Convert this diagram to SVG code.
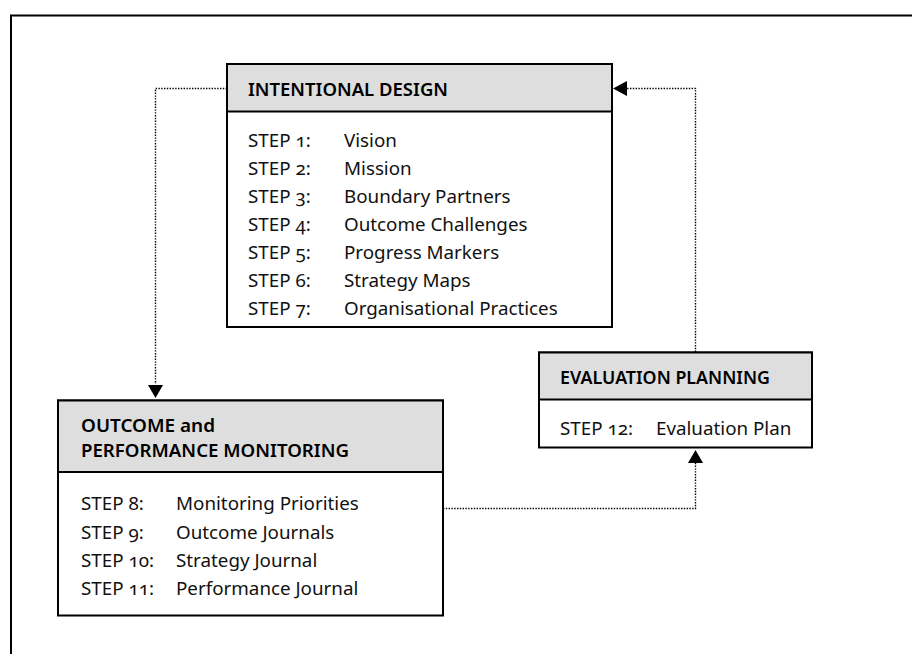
<svg xmlns="http://www.w3.org/2000/svg" width="912" height="654" viewBox="0 0 912 654">
<style>
.box{fill:#fff;stroke:#000;stroke-width:2}
.hdr{fill:#dedede;stroke:#000;stroke-width:2}
.ht{font-family:"Noto Sans","Open Sans",sans-serif;font-size:18.5px;font-weight:600;fill:#000}
.bt{font-family:"Noto Sans","Open Sans",sans-serif;font-size:18.8px;fill:#111;font-variant-numeric:oldstyle-nums;font-feature-settings:"onum" 1}
.dot{fill:none;stroke:#000;stroke-width:1.4;stroke-dasharray:1.4 1.4}
</style>
<rect x="11" y="15.5" width="1000" height="1000" fill="none" stroke="#000" stroke-width="2"/>
<g id="connectors">
<path class="dot" d="M227,88.5 H155.5 V384"/>
<path d="M148,385 L163,385 L155.5,398 Z" fill="#000"/>
<path class="dot" d="M695.5,352 V88.5 H627"/>
<path d="M613,88.5 L627,81 L627,96 Z" fill="#000"/>
<path class="dot" d="M443,508.5 H695.5 V463"/>
<path d="M688,463 L703,463 L695.5,450 Z" fill="#000"/>
</g>
<g id="intentional-design">
<rect class="box" x="227" y="64" width="385" height="263"/>
<rect class="hdr" x="227" y="64" width="385" height="47.5"/>
<text class="ht" x="248" y="95.5" textLength="200" lengthAdjust="spacingAndGlyphs">INTENTIONAL DESIGN</text>
<text class="bt" x="248" y="147">STEP 1:</text><text class="bt" x="344" y="147">Vision</text>
<text class="bt" x="248" y="175">STEP 2:</text><text class="bt" x="344" y="175">Mission</text>
<text class="bt" x="248" y="203">STEP 3:</text><text class="bt" x="344" y="203">Boundary Partners</text>
<text class="bt" x="248" y="231">STEP 4:</text><text class="bt" x="344" y="231">Outcome Challenges</text>
<text class="bt" x="248" y="259">STEP 5:</text><text class="bt" x="344" y="259">Progress Markers</text>
<text class="bt" x="248" y="287">STEP 6:</text><text class="bt" x="344" y="287">Strategy Maps</text>
<text class="bt" x="248" y="315">STEP 7:</text><text class="bt" x="344" y="315">Organisational Practices</text>
</g>
<g id="outcome-monitoring">
<rect class="box" x="58" y="400.5" width="385" height="215"/>
<rect class="hdr" x="58" y="400.5" width="385" height="71.5"/>
<text class="ht" x="81" y="431.5" textLength="134" lengthAdjust="spacingAndGlyphs">OUTCOME and</text>
<text class="ht" x="81" y="456.5" textLength="268" lengthAdjust="spacingAndGlyphs">PERFORMANCE MONITORING</text>
<text class="bt" x="81" y="510">STEP 8:</text><text class="bt" x="176" y="510">Monitoring Priorities</text>
<text class="bt" x="81" y="538.5">STEP 9:</text><text class="bt" x="176" y="538.5">Outcome Journals</text>
<text class="bt" x="81" y="567">STEP 10:</text><text class="bt" x="176" y="567">Strategy Journal</text>
<text class="bt" x="81" y="595">STEP 11:</text><text class="bt" x="176" y="595">Performance Journal</text>
</g>
<g id="evaluation-planning">
<rect class="box" x="539" y="352.5" width="273" height="95"/>
<rect class="hdr" x="539" y="352.5" width="273" height="47"/>
<text class="ht" x="560" y="383.5" textLength="210" lengthAdjust="spacingAndGlyphs">EVALUATION PLANNING</text>
<text class="bt" x="560" y="435">STEP 12:</text><text class="bt" x="656" y="435">Evaluation Plan</text>
</g>
</svg>
